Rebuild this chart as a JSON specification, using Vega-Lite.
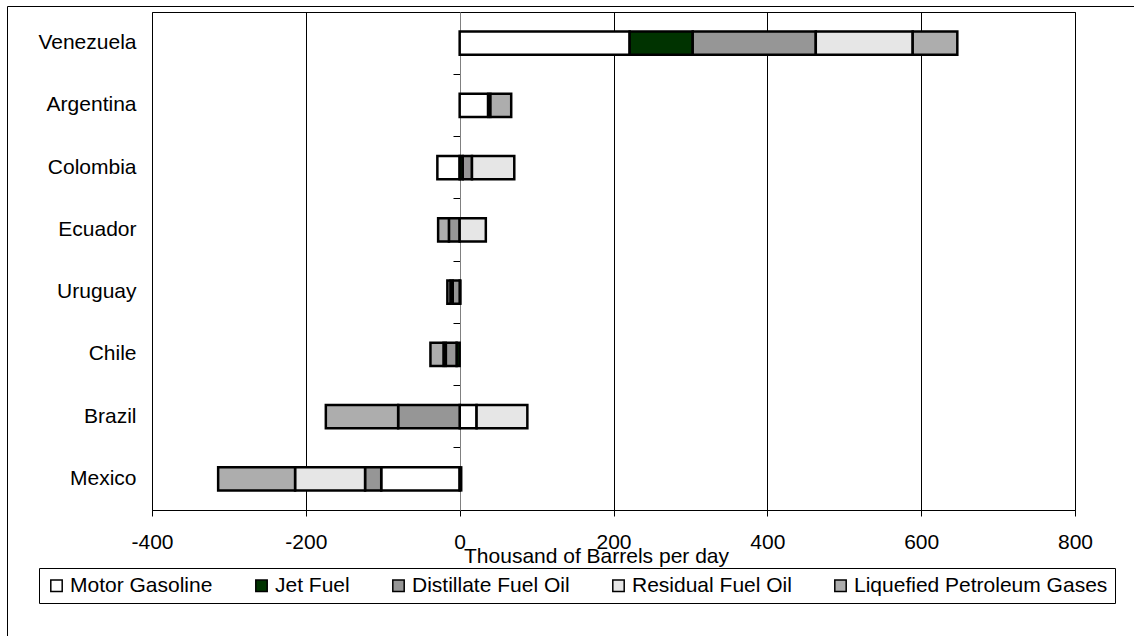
{
  "$schema": "https://vega.github.io/schema/vega-lite/v6.json",
  "autosize": "none",
  "width": 923,
  "height": 498,
  "padding": {"left": 152, "top": 12, "right": 59, "bottom": 126},
  "background": "white",
  "data": {
    "values": [
      {"country": "Venezuela", "fuel": "Motor Gasoline", "rank": 1, "value": 221},
      {"country": "Venezuela", "fuel": "Jet Fuel", "rank": 2, "value": 82},
      {"country": "Venezuela", "fuel": "Distillate Fuel Oil", "rank": 3, "value": 160},
      {"country": "Venezuela", "fuel": "Residual Fuel Oil", "rank": 4, "value": 126},
      {"country": "Venezuela", "fuel": "Liquefied Petroleum Gases", "rank": 5, "value": 58},
      {"country": "Argentina", "fuel": "Motor Gasoline", "rank": 1, "value": 37},
      {"country": "Argentina", "fuel": "Jet Fuel", "rank": 2, "value": 3},
      {"country": "Argentina", "fuel": "Liquefied Petroleum Gases", "rank": 5, "value": 27},
      {"country": "Colombia", "fuel": "Motor Gasoline", "rank": 1, "value": -29},
      {"country": "Colombia", "fuel": "Jet Fuel", "rank": 2, "value": 4},
      {"country": "Colombia", "fuel": "Distillate Fuel Oil", "rank": 3, "value": 12},
      {"country": "Colombia", "fuel": "Residual Fuel Oil", "rank": 4, "value": 55},
      {"country": "Ecuador", "fuel": "Distillate Fuel Oil", "rank": 3, "value": -14},
      {"country": "Ecuador", "fuel": "Residual Fuel Oil", "rank": 4, "value": 34},
      {"country": "Ecuador", "fuel": "Liquefied Petroleum Gases", "rank": 5, "value": -14},
      {"country": "Uruguay", "fuel": "Motor Gasoline", "rank": 1, "value": 1},
      {"country": "Uruguay", "fuel": "Distillate Fuel Oil", "rank": 3, "value": -9},
      {"country": "Uruguay", "fuel": "Residual Fuel Oil", "rank": 4, "value": -3},
      {"country": "Uruguay", "fuel": "Liquefied Petroleum Gases", "rank": 5, "value": -4},
      {"country": "Chile", "fuel": "Jet Fuel", "rank": 2, "value": -4},
      {"country": "Chile", "fuel": "Distillate Fuel Oil", "rank": 3, "value": -14},
      {"country": "Chile", "fuel": "Residual Fuel Oil", "rank": 4, "value": -3},
      {"country": "Chile", "fuel": "Liquefied Petroleum Gases", "rank": 5, "value": -17},
      {"country": "Brazil", "fuel": "Motor Gasoline", "rank": 1, "value": 22},
      {"country": "Brazil", "fuel": "Distillate Fuel Oil", "rank": 3, "value": -80},
      {"country": "Brazil", "fuel": "Residual Fuel Oil", "rank": 4, "value": 66},
      {"country": "Brazil", "fuel": "Liquefied Petroleum Gases", "rank": 5, "value": -94},
      {"country": "Mexico", "fuel": "Motor Gasoline", "rank": 1, "value": -102},
      {"country": "Mexico", "fuel": "Jet Fuel", "rank": 2, "value": 2},
      {"country": "Mexico", "fuel": "Distillate Fuel Oil", "rank": 3, "value": -21},
      {"country": "Mexico", "fuel": "Residual Fuel Oil", "rank": 4, "value": -91},
      {"country": "Mexico", "fuel": "Liquefied Petroleum Gases", "rank": 5, "value": -100}
    ]
  },
  "layer": [
    {
      "mark": {"type": "bar", "stroke": "black", "strokeWidth": 2.5, "height": {"band": 0.37}},
      "encoding": {
        "y": {
          "field": "country",
          "type": "nominal",
          "sort": ["Venezuela", "Argentina", "Colombia", "Ecuador", "Uruguay", "Chile", "Brazil", "Mexico"],
          "scale": {"paddingInner": 0, "paddingOuter": 0},
          "axis": {
            "title": null,
            "orient": "left",
            "offset": -308,
            "domain": true,
            "domainColor": "#808080",
            "domainWidth": 1,
            "ticks": true,
            "tickColor": "black",
            "tickSize": 7,
            "tickWidth": 1,
            "bandPosition": 0,
            "labelPadding": 317,
            "labelFont": "Liberation Sans",
            "labelFontSize": 21,
            "labelColor": "black",
            "labelAlign": "right",
            "grid": false
          }
        },
        "x": {
          "field": "value",
          "type": "quantitative",
          "stack": "zero",
          "scale": {"domain": [-400, 800], "nice": false},
          "axis": {
            "orient": "bottom",
            "title": "Thousand of Barrels per day",
            "titleFont": "Liberation Sans",
            "titleFontSize": 21,
            "titleFontWeight": "normal",
            "titleColor": "black",
            "titleX": 444,
            "titleY": 35,
            "titleBaseline": "top",
            "values": [-400, -200, 0, 200, 400, 600, 800],
            "labelExpr": "'' + datum.value",
            "domainColor": "black",
            "tickColor": "black",
            "tickSize": 6,
            "labelPadding": 15,
            "labelFont": "Liberation Sans",
            "labelFontSize": 21,
            "labelColor": "black",
            "labelFlush": false,
            "labelOverlap": false,
            "grid": true,
            "gridColor": {"condition": {"test": "datum.value === 0", "value": "#808080"}, "value": "black"},
            "gridWidth": 1,
            "gridOpacity": 1
          }
        },
        "color": {
          "field": "fuel",
          "type": "nominal",
          "scale": {
            "domain": ["Motor Gasoline", "Jet Fuel", "Distillate Fuel Oil", "Residual Fuel Oil", "Liquefied Petroleum Gases"],
            "range": ["#ffffff", "#003300", "#969696", "#e6e6e6", "#adadad"]
          },
          "legend": {
            "title": null,
            "orient": "none",
            "legendX": -113,
            "legendY": 556,
            "direction": "horizontal",
            "symbolType": "square",
            "symbolSize": 130,
            "symbolStrokeColor": "black",
            "symbolStrokeWidth": 1.5,
            "symbolOpacity": 1,
            "labelFont": "Liberation Sans",
            "labelFontSize": 21,
            "labelColor": "black",
            "labelOffset": 3,
            "labelLimit": 400,
            "columnPadding": 38,
            "padding": 7,
            "strokeColor": "black",
            "fillColor": "white"
          }
        },
        "order": {"field": "rank", "type": "quantitative"}
      }
    },
    {
      "mark": {"type": "point", "opacity": 0, "size": 1},
      "encoding": {
        "x": {
          "field": "value",
          "type": "quantitative",
          "scale": {"range": [-145, 990]},
          "axis": {"orient": "top", "offset": 6, "title": null, "labels": false, "ticks": false, "grid": false, "domain": true, "domainColor": "black", "domainWidth": 1}
        },
        "y": {
          "field": "value",
          "type": "quantitative",
          "scale": {"range": [630, -6]},
          "axis": {"orient": "left", "offset": 145, "title": null, "labels": false, "ticks": false, "grid": false, "domain": true, "domainColor": "black", "domainWidth": 1}
        }
      }
    }
  ],
  "resolve": {
    "scale": {"x": "independent", "y": "independent"},
    "axis": {"x": "independent", "y": "independent"}
  },
  "config": {
    "view": {"stroke": "black", "strokeWidth": 1},
    "font": "Liberation Sans"
  }
}
